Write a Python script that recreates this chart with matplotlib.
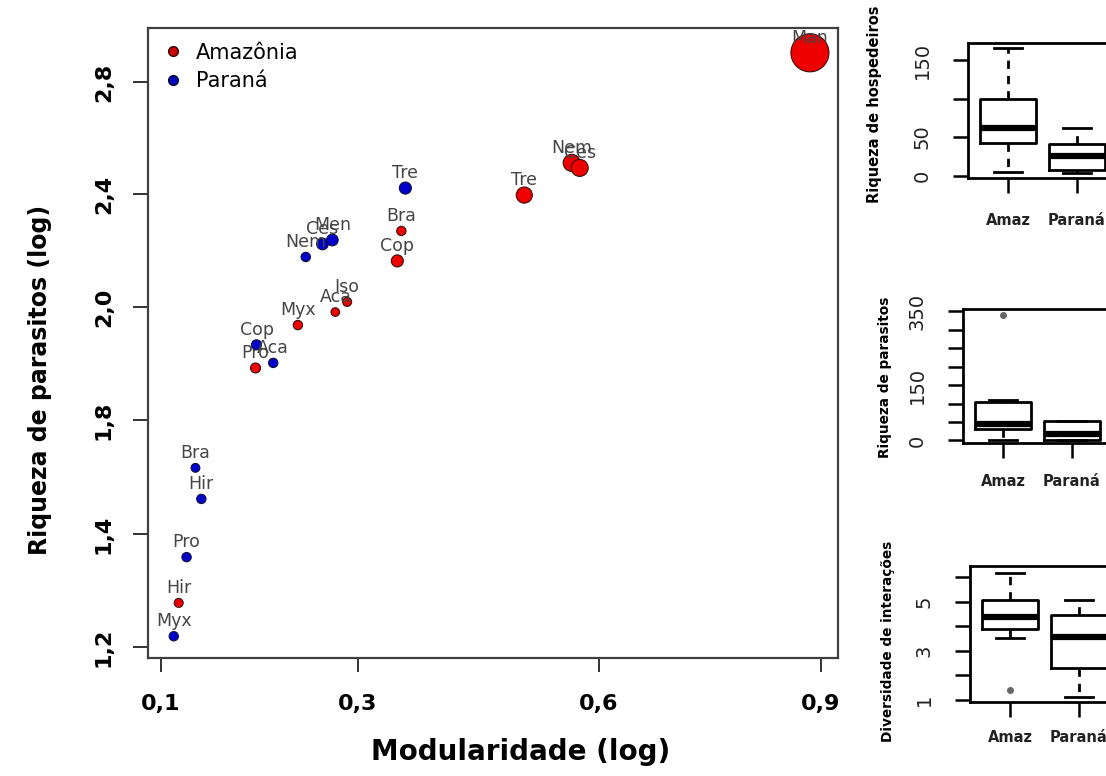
import numpy as np
import matplotlib.pyplot as plt
from matplotlib.lines import Line2D

# --- scatter data (Modularidade x Riqueza de parasitos) ---
amz_lab = ['Man', 'Nem', 'Ces', 'Tre', 'Bra', 'Cop', 'Iso', 'Aca', 'Myx', 'Pro', 'Hir']
amz_x = [0.885, 0.566, 0.576, 0.507, 0.354, 0.349, 0.289, 0.277, 0.239, 0.196, 0.118]
amz_y = [2.904, 2.511, 2.493, 2.396, 2.269, 2.163, 2.018, 1.991, 1.968, 1.892, 1.278]
amz_s = [750, 150, 150, 135, 45, 75, 42, 38, 45, 52, 42]

par_lab = ['Tre', 'Ces', 'Men', 'Nem', 'Cop', 'Aca', 'Bra', 'Hir', 'Pro', 'Myx']
par_x = [0.359, 0.264, 0.274, 0.247, 0.197, 0.214, 0.135, 0.141, 0.126, 0.113]
par_y = [2.421, 2.223, 2.237, 2.177, 1.933, 1.901, 1.632, 1.523, 1.359, 1.219]
par_s = [75, 70, 70, 45, 52, 45, 40, 45, 45, 45]

# axis ticks as printed in the figure (spacing is not linear)
xticks = [0.1, 0.3, 0.6, 0.9]
xtick_lab = ['0,1', '0,3', '0,6', '0,9']
xtick_frac = [0.0188, 0.3043, 0.6536, 0.9754]
yticks = [1.2, 1.4, 1.8, 2.0, 2.4, 2.8]
ytick_lab = ['1,2', '1,4', '1,8', '2,0', '2,4', '2,8']
ytick_frac = [0.0175, 0.1968, 0.3778, 0.5571, 0.7365, 0.9143]

# --- boxplot summaries (Amaz, Paraná) ---
groups = ['Amaz', 'Paraná']
hosp_stats = [dict(whislo=5, q1=43, med=62, q3=100, whishi=165, fliers=[]),
              dict(whislo=3, q1=8, med=26, q3=41, whishi=62, fliers=[])]
paras_stats = [dict(whislo=0, q1=32, med=44, q3=105, whishi=110, fliers=[340]),
               dict(whislo=0, q1=2, med=18, q3=52, whishi=52, fliers=[])]
div_stats = [dict(whislo=3.52, q1=3.89, med=4.37, q3=5.07, whishi=6.16, fliers=[1.4]),
             dict(whislo=1.12, q1=2.3, med=3.56, q3=4.45, whishi=5.07, fliers=[])]


def piecewise(src, dst):
    src = np.asarray(src, float)
    dst = np.asarray(dst, float)
    lo = (dst[1] - dst[0]) / (src[1] - src[0])
    hi = (dst[-1] - dst[-2]) / (src[-1] - src[-2])

    def f(v):
        v = np.asarray(v, float)
        out = np.interp(v, src, dst)
        out = np.where(v < src[0], dst[0] + (v - src[0]) * lo, out)
        out = np.where(v > src[-1], dst[-1] + (v - src[-1]) * hi, out)
        return out
    return f


fig = plt.figure(figsize=(11.06, 7.76), dpi=100)
ax = fig.add_axes([0.1338, 0.1521, 0.6239, 0.8119])

fx, ix = piecewise(xticks, xtick_frac), piecewise(xtick_frac, xticks)
fy, iy = piecewise(yticks, ytick_frac), piecewise(ytick_frac, yticks)
ax.set_xscale('function', functions=(fx, ix))
ax.set_yscale('function', functions=(fy, iy))
ax.set_xlim(float(ix(0.0)), float(ix(1.0)))
ax.set_ylim(float(iy(0.0)), float(iy(1.0)))

lab_kw = dict(xytext=(0, 7), textcoords='offset points', ha='center', va='baseline',
              fontsize=12.5, color='#454545', clip_on=True)

ax.scatter(amz_x, amz_y, s=amz_s, c='#ee0000', edgecolors='#3a1010', linewidths=0.8, zorder=3)
for t, x, y in zip(amz_lab, amz_x, amz_y):
    ax.annotate(t, (x, y), zorder=4, **lab_kw)
ax.scatter(par_x, par_y, s=par_s, c='#0000cc', edgecolors='#10103a', linewidths=0.8, zorder=5)
for t, x, y in zip(par_lab, par_x, par_y):
    ax.annotate(t, (x, y), zorder=6, **lab_kw)

ax.set_xticks(xticks)
ax.set_xticklabels(xtick_lab, fontsize=16, fontweight='bold')
ax.set_yticks(yticks)
ax.set_yticklabels(ytick_lab, fontsize=16, fontweight='bold', rotation=90, va='center')
ax.minorticks_off()
ax.tick_params(axis='x', length=10, width=1.4, color='#333333', pad=16)
ax.tick_params(axis='y', length=10.5, width=1.4, color='#333333', pad=14)
for sp in ax.spines.values():
    sp.set_color('#404040')
    sp.set_linewidth(1.6)

handles = [Line2D([], [], marker='o', ls='', color='#cc0000', mec='#300000', ms=7, label='Amazônia'),
           Line2D([], [], marker='o', ls='', color='#0000bb', mec='#000030', ms=7, label='Paraná')]
ax.legend(handles=handles, loc='upper left', frameon=False, fontsize=15,
          handletextpad=0.6, borderaxespad=0.3, labelspacing=0.4, handlelength=1)

fig.text(521 / 1106, 1 - 752 / 776, 'Modularidade (log)', fontsize=20, fontweight='bold',
         ha='center', va='center')
fig.text(40 / 1106, 1 - 380 / 776, 'Riqueza de parasitos (log)', fontsize=17, fontweight='bold',
         rotation=90, ha='center', va='center')

# --- small boxplots on the right ---
boxes = [
    ([0.8752, 0.7706, 0.1347, 0.1740], hosp_stats, (-3, 172), [0, 50, 100, 150],
     ['0', '50', '', '150'], 'Riqueza de hospedeiros', (875, 203), 10.5, 14),
    ([0.8707, 0.4291, 0.1347, 0.1727], paras_stats, (-7, 356), list(range(0, 351, 50)),
     ['0', '', '', '150', '', '', '', '350'], 'Riqueza de parasitos', (885, 458), 9.8, 11.5),
    ([0.8770, 0.0954, 0.1347, 0.1753], div_stats, (0.92, 6.45), [1, 2, 3, 4, 5, 6],
     ['1', '', '3', '', '5', ''], 'Diversidade de interações', (888, 742), 9.8, 9.5),
]

for rect, stats, ylim, yt, ytl, ylab, lpos, lsize, xpad in boxes:
    bx = fig.add_axes(rect)
    bx.bxp(stats, positions=[1, 2], widths=0.8,
           boxprops=dict(lw=2, color='k'),
           medianprops=dict(lw=4.5, color='k', solid_capstyle='butt'),
           whiskerprops=dict(lw=2, color='k', ls=(0, (3, 2.5))),
           capprops=dict(lw=2, color='k'),
           flierprops=dict(marker='o', ms=4, mfc='#666666', mec='#666666'))
    bx.set_xlim(0.42, 2.58)
    bx.set_ylim(*ylim)
    bx.set_xticks([1, 2])
    bx.set_xticklabels(groups, fontsize=10.5, fontweight='bold', color='#222222')
    bx.set_yticks(yt)
    bx.set_yticklabels(ytl, fontsize=14, rotation=90, va='center', color='#222222')
    bx.tick_params(axis='y', length=11, width=1.8, pad=15)
    bx.tick_params(axis='x', length=11, width=1.8, pad=xpad)
    for sp in bx.spines.values():
        sp.set_linewidth(2)
        sp.set_color('k')
    fig.text(lpos[0] / 1106, 1 - lpos[1] / 776, ylab, fontsize=lsize, fontweight='bold',
             rotation=90, ha='center', va='bottom')

fig.savefig('out.png', dpi=100, facecolor='white')
